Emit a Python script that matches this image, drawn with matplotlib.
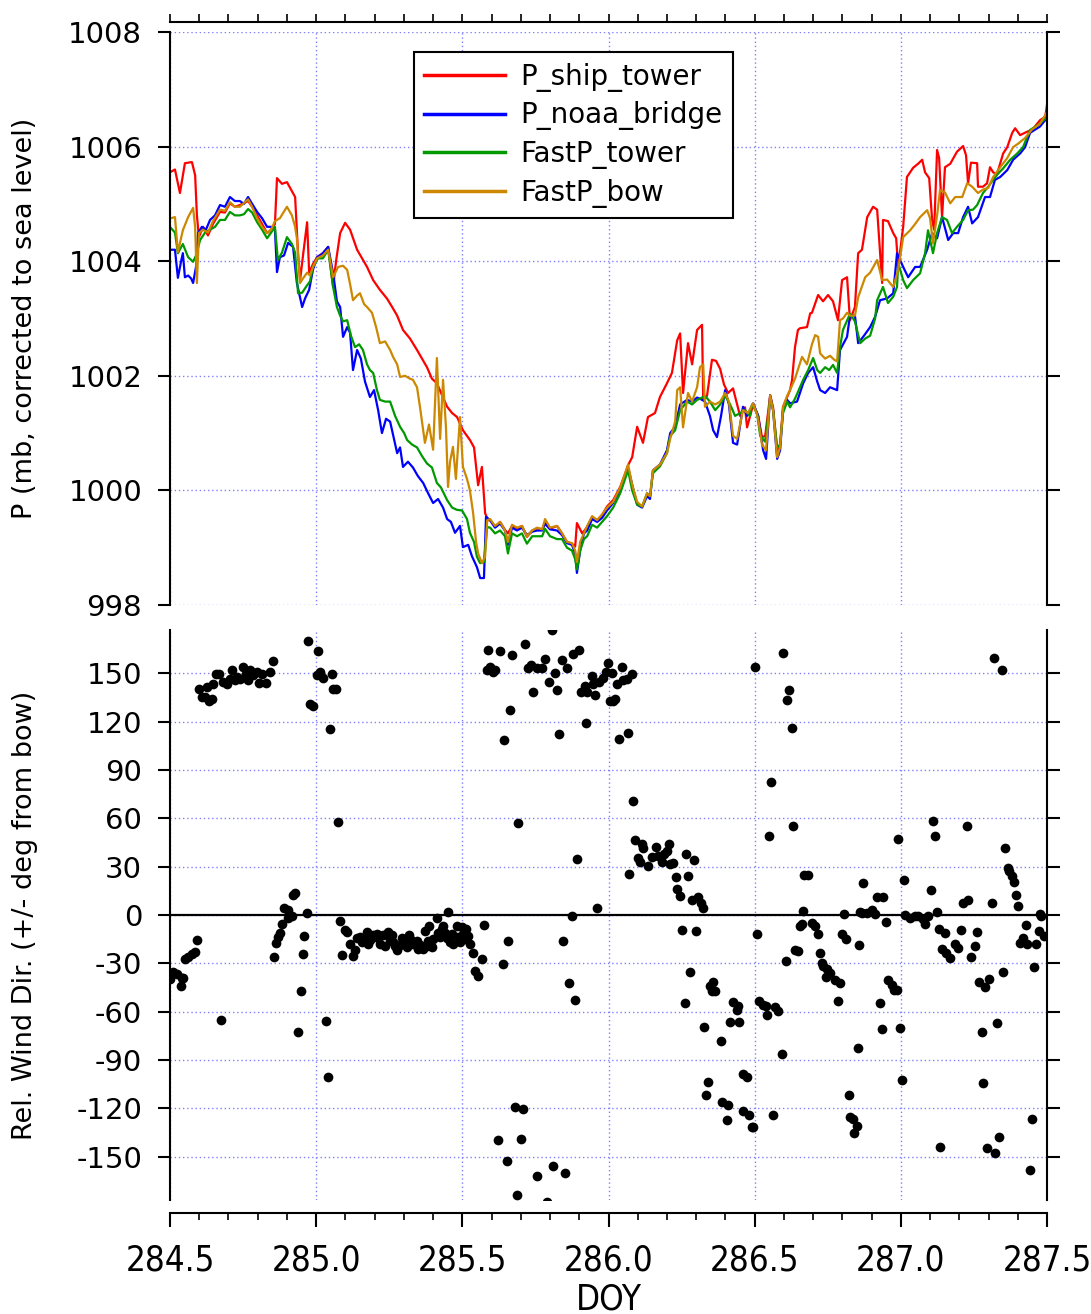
import matplotlib
matplotlib.use("Agg")
import matplotlib.pyplot as plt
from matplotlib import font_manager
from matplotlib.ticker import MultipleLocator, FixedLocator

# ---- surface pressure (mb, corrected to sea level) ----
ship_doy = [284.503, 284.517, 284.534, 284.551, 284.575, 284.586, 284.592, 284.599, 284.613, 284.630,
            284.647, 284.671, 284.688, 284.705, 284.722, 284.739, 284.767, 284.781, 284.798, 284.815,
            284.832, 284.846, 284.859, 284.866, 284.883, 284.900, 284.914, 284.928, 284.938, 284.945,
            284.955, 284.969, 284.976, 284.989, 285.003, 285.023, 285.041, 285.058, 285.068, 285.082,
            285.099, 285.116, 285.140, 285.157, 285.174, 285.195, 285.218, 285.242, 285.260, 285.277,
            285.297, 285.321, 285.345, 285.362, 285.379, 285.396, 285.413, 285.434, 285.448, 285.465,
            285.482, 285.502, 285.526, 285.540, 285.554, 285.567, 285.578, 285.588, 285.595, 285.612,
            285.629, 285.646, 285.656, 285.670, 285.687, 285.704, 285.721, 285.739, 285.756, 285.773,
            285.783, 285.800, 285.824, 285.841, 285.858, 285.875, 285.886, 285.892, 285.910, 285.927,
            285.944, 285.961, 285.978, 285.995, 286.016, 286.040, 286.057, 286.067, 286.081, 286.098,
            286.118, 286.135, 286.159, 286.176, 286.200, 286.217, 286.235, 286.245, 286.255, 286.272,
            286.286, 286.303, 286.320, 286.324, 286.337, 286.354, 286.368, 286.382, 286.395, 286.409,
            286.426, 286.440, 286.450, 286.467, 286.474, 286.495, 286.512, 286.525, 286.536, 286.553,
            286.563, 286.577, 286.587, 286.597, 286.611, 286.621, 286.628, 286.638, 286.648, 286.655,
            286.679, 286.690, 286.696, 286.717, 286.734, 286.751, 286.768, 286.785, 286.799, 286.816,
            286.826, 286.843, 286.854, 286.867, 286.885, 286.905, 286.919, 286.929, 286.936, 286.939,
            286.956, 286.974, 286.984, 286.991, 287.008, 287.021, 287.042, 287.059, 287.073, 287.083,
            287.097, 287.107, 287.114, 287.124, 287.131, 287.141, 287.151, 287.169, 287.192, 287.213,
            287.223, 287.230, 287.240, 287.261, 287.264, 287.281, 287.295, 287.305, 287.316, 287.329,
            287.350, 287.364, 287.381, 287.391, 287.408, 287.432, 287.449, 287.476, 287.494, 287.500]
ship_p = [1005.56, 1005.60, 1005.19, 1005.71, 1005.73, 1005.50, 1004.80, 1004.42, 1004.60, 1004.45,
          1004.65, 1004.86, 1004.85, 1005.01, 1004.95, 1004.98, 1005.05, 1004.95, 1004.80, 1004.65,
          1004.49, 1004.55, 1004.65, 1005.45, 1005.35, 1005.38, 1005.25, 1005.12, 1004.14, 1003.67,
          1004.10, 1004.68, 1003.80, 1003.95, 1004.07, 1004.14, 1004.25, 1003.55, 1004.00, 1004.49,
          1004.67, 1004.55, 1004.20, 1004.05, 1003.90, 1003.67, 1003.50, 1003.35, 1003.20, 1003.05,
          1002.80, 1002.65, 1002.45, 1002.30, 1002.15, 1001.95, 1001.87, 1001.62, 1001.46, 1001.35,
          1001.28, 1001.05, 1000.88, 1000.75, 1000.09, 1000.41, 999.60, 999.48, 999.48, 999.36,
          999.45, 999.31, 999.25, 999.38, 999.33, 999.38, 999.19, 999.30, 999.34, 999.32,
          999.43, 999.33, 999.38, 999.25, 999.10, 999.07, 999.02, 999.43, 999.25, 999.36,
          999.54, 999.48, 999.57, 999.72, 999.83, 1000.06, 1000.29, 1000.44, 1000.58, 1001.11,
          1000.83, 1001.28, 1001.35, 1001.63, 1001.87, 1002.05, 1002.62, 1002.74, 1001.70, 1002.57,
          1002.20, 1002.80, 1002.89, 1001.58, 1001.65, 1002.28, 1002.26, 1002.12, 1001.85, 1001.70,
          1001.78, 1001.50, 1001.30, 1001.45, 1001.10, 1001.50, 1001.30, 1000.93, 1000.95, 1001.66,
          1001.45, 1000.70, 1000.80, 1001.46, 1001.63, 1001.75, 1001.93, 1002.50, 1002.80, 1002.83,
          1002.85, 1003.09, 1003.10, 1003.41, 1003.30, 1003.41, 1003.30, 1002.97, 1003.67, 1003.72,
          1002.97, 1003.20, 1004.14, 1004.20, 1004.77, 1004.95, 1004.90, 1004.14, 1003.62, 1004.72,
          1004.70, 1004.49, 1004.40, 1003.90, 1004.60, 1005.47, 1005.63, 1005.70, 1005.77, 1005.55,
          1005.45, 1004.72, 1004.55, 1005.94, 1005.80, 1004.77, 1005.64, 1005.70, 1005.91, 1006.01,
          1005.85, 1005.36, 1005.72, 1005.71, 1005.30, 1005.30, 1005.36, 1005.64, 1005.55, 1005.52,
          1005.88, 1005.99, 1006.24, 1006.32, 1006.20, 1006.26, 1006.29, 1006.46, 1006.52, 1006.73]

noaa_doy = [284.503, 284.517, 284.527, 284.538, 284.544, 284.551, 284.562, 284.572, 284.579, 284.589,
            284.596, 284.609, 284.623, 284.637, 284.654, 284.671, 284.688, 284.705, 284.722, 284.739,
            284.753, 284.767, 284.781, 284.798, 284.815, 284.832, 284.846, 284.859, 284.866, 284.876,
            284.890, 284.904, 284.921, 284.934, 284.952, 284.962, 284.976, 284.989, 285.003, 285.013,
            285.023, 285.041, 285.058, 285.071, 285.082, 285.092, 285.106, 285.116, 285.126, 285.140,
            285.153, 285.167, 285.184, 285.198, 285.212, 285.225, 285.239, 285.253, 285.266, 285.277,
            285.287, 285.297, 285.314, 285.331, 285.348, 285.366, 285.383, 285.400, 285.417, 285.434,
            285.448, 285.461, 285.475, 285.492, 285.502, 285.520, 285.533, 285.550, 285.561, 285.574,
            285.581, 285.595, 285.612, 285.629, 285.646, 285.656, 285.670, 285.687, 285.704, 285.721,
            285.739, 285.756, 285.773, 285.783, 285.800, 285.824, 285.841, 285.858, 285.875, 285.886,
            285.892, 285.903, 285.916, 285.927, 285.944, 285.961, 285.978, 285.995, 286.016, 286.040,
            286.057, 286.067, 286.081, 286.098, 286.115, 286.132, 286.142, 286.152, 286.176, 286.200,
            286.211, 286.228, 286.245, 286.269, 286.286, 286.303, 286.313, 286.330, 286.347, 286.358,
            286.371, 286.385, 286.399, 286.412, 286.426, 286.440, 286.460, 286.474, 286.495, 286.512,
            286.529, 286.539, 286.553, 286.563, 286.577, 286.587, 286.597, 286.611, 286.621, 286.645,
            286.666, 286.683, 286.700, 286.714, 286.724, 286.741, 286.758, 286.782, 286.792, 286.816,
            286.826, 286.843, 286.854, 286.874, 286.895, 286.912, 286.929, 286.953, 286.974, 286.987,
            287.008, 287.025, 287.049, 287.066, 287.090, 287.107, 287.124, 287.141, 287.162, 287.179,
            287.196, 287.213, 287.230, 287.244, 287.264, 287.288, 287.305, 287.322, 287.340, 287.364,
            287.384, 287.408, 287.425, 287.442, 287.476, 287.500]
noaa_p = [1004.20, 1004.20, 1003.71, 1004.00, 1004.14, 1003.72, 1003.75, 1003.70, 1003.62, 1003.90,
          1004.49, 1004.60, 1004.55, 1004.72, 1004.80, 1004.98, 1004.95, 1005.12, 1005.05, 1005.05,
          1005.00, 1005.12, 1005.00, 1004.86, 1004.75, 1004.60, 1004.60, 1004.55, 1003.81, 1004.07,
          1004.10, 1004.32, 1004.25, 1003.62, 1003.20, 1003.35, 1003.50, 1003.85, 1004.07, 1004.10,
          1004.14, 1004.25, 1003.79, 1003.30, 1003.20, 1002.68, 1002.85, 1002.75, 1002.10, 1002.45,
          1002.30, 1001.90, 1001.63, 1001.75, 1001.40, 1001.00, 1001.25, 1001.20, 1000.90, 1000.65,
          1000.75, 1000.41, 1000.50, 1000.40, 1000.25, 1000.13, 999.95, 999.78, 999.85, 999.70,
          999.50, 999.45, 999.26, 999.38, 999.01, 999.05, 998.85, 998.66, 998.47, 998.47,
          999.54, 999.48, 999.35, 999.42, 999.30, 999.05, 999.35, 999.30, 999.35, 999.22,
          999.28, 999.30, 999.30, 999.42, 999.32, 999.30, 999.22, 999.08, 999.05, 998.90,
          998.56, 998.95, 999.25, 999.30, 999.50, 999.45, 999.52, 999.65, 999.78, 1000.00,
          1000.25, 1000.40, 1000.10, 999.75, 999.70, 999.90, 999.85, 1000.35, 1000.45, 1000.70,
          1001.00, 1001.11, 1001.50, 1001.58, 1001.55, 1001.62, 1001.60, 1001.55, 1001.30, 1001.05,
          1000.93, 1001.30, 1001.75, 1001.50, 1000.83, 1000.80, 1001.46, 1001.30, 1001.52, 1001.30,
          1000.70, 1000.55, 1001.66, 1001.40, 1000.55, 1000.70, 1001.40, 1001.58, 1001.52, 1001.55,
          1001.87, 1002.05, 1002.15, 1001.90, 1001.75, 1001.70, 1001.80, 1001.75, 1002.45, 1002.68,
          1003.05, 1003.05, 1002.57, 1002.70, 1002.85, 1003.03, 1003.32, 1003.35, 1003.44, 1004.14,
          1003.90, 1003.72, 1003.90, 1003.90, 1004.20, 1004.49, 1004.40, 1004.77, 1004.37, 1004.49,
          1004.49, 1004.77, 1004.95, 1004.66, 1004.77, 1005.12, 1005.12, 1005.42, 1005.47, 1005.59,
          1005.77, 1005.88, 1005.99, 1006.24, 1006.35, 1006.50]

fast_tower_doy = [284.503, 284.517, 284.527, 284.544, 284.562, 284.579, 284.589, 284.603, 284.620, 284.637,
                  284.654, 284.671, 284.688, 284.705, 284.722, 284.739, 284.753, 284.767, 284.781, 284.798,
                  284.815, 284.832, 284.846, 284.859, 284.869, 284.883, 284.900, 284.917, 284.928, 284.938,
                  284.952, 284.965, 284.979, 284.989, 285.006, 285.023, 285.041, 285.058, 285.071, 285.082,
                  285.092, 285.106, 285.119, 285.133, 285.147, 285.160, 285.174, 285.184, 285.195, 285.208,
                  285.218, 285.236, 285.253, 285.270, 285.287, 285.301, 285.311, 285.328, 285.345, 285.362,
                  285.379, 285.396, 285.413, 285.427, 285.448, 285.465, 285.482, 285.499, 285.516, 285.526,
                  285.540, 285.550, 285.561, 285.574, 285.585, 285.595, 285.612, 285.629, 285.646, 285.656,
                  285.670, 285.687, 285.704, 285.721, 285.739, 285.756, 285.773, 285.783, 285.800, 285.824,
                  285.841, 285.858, 285.875, 285.886, 285.892, 285.903, 285.916, 285.927, 285.944, 285.961,
                  285.978, 285.995, 286.016, 286.040, 286.057, 286.067, 286.081, 286.098, 286.115, 286.132,
                  286.142, 286.152, 286.176, 286.200, 286.211, 286.228, 286.245, 286.269, 286.286, 286.303,
                  286.313, 286.330, 286.347, 286.365, 286.382, 286.399, 286.416, 286.433, 286.450, 286.467,
                  286.484, 286.491, 286.508, 286.519, 286.536, 286.553, 286.563, 286.577, 286.587, 286.597,
                  286.611, 286.621, 286.638, 286.655, 286.666, 286.683, 286.700, 286.714, 286.724, 286.741,
                  286.755, 286.768, 286.782, 286.792, 286.802, 286.826, 286.843, 286.861, 286.878, 286.895,
                  286.912, 286.919, 286.939, 286.956, 286.974, 286.987, 286.991, 287.008, 287.021, 287.042,
                  287.066, 287.083, 287.093, 287.110, 287.124, 287.141, 287.158, 287.175, 287.192, 287.213,
                  287.230, 287.247, 287.261, 287.281, 287.299, 287.316, 287.333, 287.350, 287.374, 287.398,
                  287.418, 287.442, 287.470, 287.497]
fast_tower_p = [1004.58, 1004.50, 1004.14, 1004.30, 1004.07, 1003.99, 1004.10, 1004.37, 1004.50, 1004.55,
                1004.60, 1004.72, 1004.72, 1004.86, 1004.80, 1004.80, 1004.82, 1004.91, 1004.85, 1004.68,
                1004.55, 1004.40, 1004.50, 1004.60, 1004.02, 1004.15, 1004.42, 1004.30, 1004.15, 1003.44,
                1003.45, 1003.55, 1003.65, 1003.90, 1004.05, 1004.05, 1004.20, 1003.55, 1003.20, 1003.05,
                1002.95, 1002.97, 1002.70, 1002.50, 1002.55, 1002.45, 1002.20, 1002.10, 1002.05, 1001.75,
                1001.58, 1001.55, 1001.55, 1001.30, 1001.11, 1001.00, 1000.88, 1000.80, 1000.75, 1000.60,
                1000.47, 1000.40, 1000.13, 1000.05, 999.83, 999.70, 999.66, 999.65, 999.50, 999.26,
                999.10, 998.84, 998.73, 998.75, 999.36, 999.35, 999.25, 999.30, 999.20, 998.90,
                999.25, 999.20, 999.25, 999.07, 999.20, 999.20, 999.20, 999.33, 999.20, 999.15,
                999.15, 999.00, 998.95, 998.80, 998.62, 998.95, 999.15, 999.20, 999.40, 999.35,
                999.45, 999.55, 999.70, 999.95, 1000.20, 1000.35, 1000.00, 999.75, 999.72, 999.95,
                999.90, 1000.30, 1000.42, 1000.65, 1000.95, 1001.05, 1001.40, 1001.55, 1001.50, 1001.58,
                1001.60, 1001.65, 1001.55, 1001.40, 1001.50, 1001.65, 1001.50, 1001.30, 1001.35, 1001.40,
                1001.30, 1001.50, 1001.35, 1000.95, 1000.85, 1001.60, 1001.40, 1000.75, 1000.80, 1001.35,
                1001.55, 1001.45, 1001.60, 1001.80, 1001.93, 1002.10, 1002.31, 1002.10, 1002.05, 1002.15,
                1002.10, 1002.19, 1002.05, 1002.50, 1002.80, 1003.08, 1002.95, 1002.57, 1002.65, 1002.70,
                1003.00, 1003.32, 1003.55, 1003.27, 1003.38, 1003.55, 1003.97, 1003.67, 1003.53, 1003.67,
                1003.79, 1004.14, 1004.54, 1004.14, 1004.49, 1004.77, 1004.72, 1004.49, 1004.60, 1004.72,
                1004.89, 1004.90, 1004.98, 1005.19, 1005.30, 1005.42, 1005.53, 1005.62, 1005.77, 1005.88,
                1005.99, 1006.29, 1006.38, 1006.50]

fast_bow_doy = [284.503, 284.517, 284.527, 284.544, 284.562, 284.579, 284.586, 284.592, 284.599, 284.613,
                284.630, 284.647, 284.671, 284.688, 284.705, 284.722, 284.739, 284.767, 284.781, 284.798,
                284.815, 284.832, 284.846, 284.859, 284.876, 284.900, 284.917, 284.928, 284.934, 284.945,
                284.955, 284.969, 284.979, 284.989, 285.003, 285.023, 285.041, 285.058, 285.075, 285.092,
                285.106, 285.116, 285.126, 285.140, 285.150, 285.164, 285.174, 285.191, 285.205, 285.218,
                285.236, 285.253, 285.263, 285.277, 285.287, 285.304, 285.321, 285.331, 285.345, 285.355,
                285.372, 285.386, 285.400, 285.413, 285.424, 285.434, 285.444, 285.451, 285.458, 285.468,
                285.478, 285.492, 285.502, 285.516, 285.526, 285.537, 285.547, 285.554, 285.567, 285.578,
                285.585, 285.595, 285.612, 285.629, 285.646, 285.656, 285.670, 285.687, 285.704, 285.721,
                285.739, 285.756, 285.773, 285.783, 285.800, 285.824, 285.841, 285.858, 285.875, 285.886,
                285.892, 285.903, 285.916, 285.927, 285.944, 285.961, 285.978, 285.995, 286.016, 286.040,
                286.057, 286.067, 286.081, 286.098, 286.115, 286.132, 286.142, 286.152, 286.176, 286.200,
                286.211, 286.228, 286.235, 286.245, 286.255, 286.272, 286.286, 286.303, 286.313, 286.324,
                286.330, 286.347, 286.365, 286.382, 286.399, 286.412, 286.426, 286.440, 286.460, 286.477,
                286.495, 286.512, 286.525, 286.539, 286.553, 286.563, 286.577, 286.587, 286.597, 286.611,
                286.621, 286.638, 286.662, 286.679, 286.696, 286.707, 286.717, 286.724, 286.741, 286.758,
                286.772, 286.782, 286.792, 286.802, 286.816, 286.826, 286.843, 286.854, 286.878, 286.895,
                286.919, 286.936, 286.953, 286.974, 286.991, 287.008, 287.032, 287.049, 287.066, 287.090,
                287.100, 287.110, 287.124, 287.134, 287.151, 287.169, 287.186, 287.210, 287.227, 287.244,
                287.264, 287.281, 287.299, 287.316, 287.340, 287.364, 287.384, 287.401, 287.425, 287.449,
                287.476, 287.500]
fast_bow_p = [1004.75, 1004.77, 1004.16, 1004.54, 1004.77, 1004.93, 1004.60, 1003.62, 1004.49, 1004.55,
              1004.50, 1004.70, 1004.90, 1004.88, 1005.03, 1004.95, 1004.95, 1005.08, 1004.95, 1004.75,
              1004.60, 1004.49, 1004.55, 1004.70, 1004.75, 1004.95, 1004.80, 1004.60, 1004.40, 1003.62,
              1003.70, 1003.80, 1003.75, 1003.90, 1004.05, 1004.10, 1004.20, 1003.72, 1003.90, 1003.92,
              1003.85, 1003.60, 1003.32, 1003.40, 1003.44, 1003.25, 1003.20, 1003.10, 1002.85, 1002.57,
              1002.60, 1002.45, 1002.33, 1002.20, 1001.98, 1002.00, 1001.95, 1001.93, 1001.80, 1001.46,
              1000.83, 1001.15, 1000.71, 1002.31, 1000.90, 1001.93, 1001.10, 1000.06, 1000.50, 1000.76,
              1000.20, 1001.28, 1000.41, 1000.20, 1000.00, 999.60, 999.10, 998.90, 998.73, 998.85,
              999.48, 999.50, 999.38, 999.45, 999.30, 999.10, 999.40, 999.35, 999.38, 999.20,
              999.30, 999.35, 999.32, 999.50, 999.35, 999.38, 999.25, 999.10, 999.08, 998.95,
              998.75, 999.10, 999.25, 999.38, 999.55, 999.48, 999.58, 999.70, 999.80, 1000.05,
              1000.30, 1000.45, 1000.10, 999.80, 999.72, 999.95, 999.90, 1000.35, 1000.45, 1000.65,
              1000.90, 1001.20, 1001.75, 1001.80, 1001.10, 1001.70, 1001.55, 1001.80, 1002.15, 1002.20,
              1001.46, 1001.55, 1001.50, 1001.55, 1001.70, 1001.55, 1000.95, 1000.90, 1001.40, 1001.35,
              1001.52, 1001.25, 1000.80, 1000.70, 1001.66, 1001.40, 1000.58, 1000.75, 1001.45, 1001.65,
              1001.75, 1001.95, 1002.33, 1002.20, 1002.55, 1002.71, 1002.68, 1002.39, 1002.30, 1002.35,
              1002.28, 1002.25, 1002.97, 1003.00, 1003.10, 1003.05, 1003.05, 1003.37, 1003.72, 1003.80,
              1004.02, 1003.67, 1003.68, 1003.55, 1003.85, 1004.42, 1004.54, 1004.65, 1004.77, 1004.89,
              1004.75, 1004.31, 1004.80, 1005.24, 1005.20, 1005.01, 1005.12, 1005.12, 1005.36, 1005.30,
              1005.19, 1005.25, 1005.28, 1005.47, 1005.64, 1005.80, 1005.99, 1006.05, 1006.15, 1006.30,
              1006.40, 1006.60]

# ---- relative wind direction (deg from bow) ----
wind_doy = [284.500, 284.511, 284.523, 284.538, 284.540, 284.546, 284.551, 284.563, 284.574, 284.586,
            284.593, 284.600, 284.608, 284.620, 284.626, 284.634, 284.643, 284.648, 284.657, 284.669,
            284.674, 284.682, 284.694, 284.705, 284.711, 284.722, 284.730, 284.739, 284.751, 284.760,
            284.768, 284.774, 284.785, 284.797, 284.806, 284.814, 284.828, 284.842, 284.851, 284.857,
            284.863, 284.871, 284.876, 284.884, 284.890, 284.905, 284.905, 284.916, 284.922, 284.928,
            284.939, 284.947, 284.954, 284.959, 284.968, 284.973, 284.979, 284.990, 285.002, 285.007,
            285.013, 285.024, 285.034, 285.042, 285.047, 285.053, 285.059, 285.068, 285.076, 285.082,
            285.087, 285.099, 285.105, 285.116, 285.127, 285.133, 285.139, 285.150, 285.156, 285.162,
            285.173, 285.178, 285.185, 285.196, 285.207, 285.212, 285.218, 285.230, 285.236, 285.247,
            285.252, 285.258, 285.264, 285.270, 285.276, 285.287, 285.293, 285.304, 285.310, 285.319,
            285.325, 285.332, 285.344, 285.349, 285.356, 285.367, 285.372, 285.378, 285.384, 285.387,
            285.395, 285.401, 285.412, 285.418, 285.424, 285.429, 285.435, 285.441, 285.446, 285.452,
            285.458, 285.463, 285.469, 285.481, 285.486, 285.492, 285.498, 285.503, 285.509, 285.513,
            285.521, 285.526, 285.538, 285.543, 285.555, 285.566, 285.574, 285.583, 285.589, 285.595,
            285.606, 285.612, 285.623, 285.629, 285.638, 285.644, 285.652, 285.657, 285.663, 285.671,
            285.680, 285.686, 285.692, 285.700, 285.707, 285.714, 285.726, 285.734, 285.743, 285.754,
            285.755, 285.772, 285.783, 285.789, 285.798, 285.806, 285.811, 285.817, 285.825, 285.832,
            285.840, 285.846, 285.851, 285.859, 285.866, 285.874, 285.880, 285.886, 285.893, 285.900,
            285.905, 285.920, 285.923, 285.928, 285.943, 285.948, 285.954, 285.960, 285.969, 285.982,
            285.992, 285.999, 286.005, 286.011, 286.017, 286.022, 286.030, 286.037, 286.045, 286.051,
            286.062, 286.065, 286.071, 286.080, 286.085, 286.092, 286.100, 286.108, 286.114, 286.119,
            286.136, 286.148, 286.162, 286.170, 286.182, 286.190, 286.201, 286.208, 286.211, 286.222,
            286.231, 286.235, 286.245, 286.251, 286.260, 286.265, 286.273, 286.279, 286.285, 286.293,
            286.300, 286.307, 286.315, 286.322, 286.328, 286.334, 286.342, 286.347, 286.353, 286.359,
            286.365, 286.384, 286.387, 286.404, 286.410, 286.416, 286.427, 286.439, 286.444, 286.448,
            286.459, 286.461, 286.473, 286.482, 286.490, 286.496, 286.501, 286.509, 286.516, 286.530,
            286.539, 286.543, 286.550, 286.556, 286.564, 286.570, 286.581, 286.593, 286.598, 286.607,
            286.612, 286.619, 286.627, 286.632, 286.638, 286.649, 286.655, 286.661, 286.667, 286.669,
            286.684, 286.695, 286.707, 286.718, 286.724, 286.729, 286.735, 286.744, 286.746, 286.758,
            286.775, 286.786, 286.792, 286.798, 286.807, 286.813, 286.821, 286.826, 286.838, 286.841,
            286.849, 286.853, 286.858, 286.861, 286.866, 286.872, 286.884, 286.901, 286.912, 286.920,
            286.929, 286.935, 286.940, 286.950, 286.957, 286.969, 286.977, 286.986, 286.992, 286.997,
            287.003, 287.011, 287.015, 287.032, 287.049, 287.060, 287.077, 287.083, 287.094, 287.102,
            287.109, 287.117, 287.123, 287.129, 287.134, 287.140, 287.151, 287.155, 287.169, 287.186,
            287.197, 287.206, 287.214, 287.228, 287.231, 287.240, 287.254, 287.260, 287.269, 287.277,
            287.282, 287.288, 287.296, 287.303, 287.311, 287.317, 287.322, 287.330, 287.337, 287.345,
            287.351, 287.357, 287.365, 287.371, 287.380, 287.387, 287.394, 287.400, 287.406, 287.419,
            287.428, 287.433, 287.442, 287.448, 287.456, 287.462, 287.471, 287.476, 287.479, 287.490]
wind_dir = [-39.6, -35.5, -36.5, -44.4, -39.0, -39.0, -27.2, -26.2, -24.2, -23.1,
            -15.4, 140.5, 135.3, 135.3, 141.5, 132.6, 134.3, 143.2, 149.4, 149.4,
            -65.0, 144.6, 143.6, 146.7, 151.9, 145.7, 147.7, 146.7, 153.9, 149.8,
            146.1, 151.9, 148.8, 150.8, 144.0, 149.8, 144.0, 150.8, 157.5, -25.8,
            -17.5, -13.4, -11.3, -5.8, 4.5, 3.1, -1.6, -0.5, 12.5, 13.6,
            -72.4, -46.9, -24.5, -13.0, 1.1, 170.0, 131.2, 130.1, 148.8, 163.7,
            150.8, 147.3, -66.0, -100.7, 115.7, 149.8, 140.5, 140.5, 57.6, -3.5,
            -24.7, -9.6, -10.6, -17.8, -25.7, -22.0, -14.1, -13.7, -16.8, -14.5,
            -10.6, -17.8, -15.5, -12.7, -11.6, -14.5, -17.8, -12.7, -19.5, -10.6,
            -15.5, -12.7, -16.8, -19.5, -22.0, -18.9, -14.5, -17.8, -20.0, -12.2,
            -15.5, -17.8, -16.1, -21.3, -18.5, -21.3, -9.9, -19.2, -16.0, -6.8,
            -20.0, -15.1, -1.6, -10.9, -13.5, -8.9, -6.6, -10.9, -14.5, 1.6,
            -16.8, -11.5, -17.8, -6.6, -13.9, -17.0, -7.6, -11.8, -15.0, -8.7,
            -12.9, -18.1, -23.3, -34.7, -37.7, -27.3, -6.2, 152.3, 164.3, 153.9,
            150.8, 151.9, -139.6, 163.7, -30.3, 108.4, -152.9, -16.4, 127.6, 161.6,
            -119.0, -173.8, 57.0, -139.0, -120.4, 168.4, 153.3, 155.0, 138.4, 153.3,
            -161.8, 153.3, 158.7, -178.4, 144.6, 176.7, -156.0, 150.4, 140.0, 112.5,
            158.5, -16.2, -160.1, 153.3, -42.1, -0.8, 162.2, -52.7, 34.9, 164.3,
            138.8, 142.5, 119.1, 138.4, 148.3, 143.6, 136.8, 4.3, 144.6, 147.5,
            150.8, 156.4, 133.2, 150.2, 133.2, 134.3, 143.6, 109.4, 154.3, 145.7,
            146.7, 113.2, 25.5, 149.8, 70.7, 46.3, 35.5, 32.8, 44.2, 41.5,
            30.7, 35.9, 42.5, 36.9, 32.8, 38.0, 40.0, 43.8, 31.7, 32.1,
            23.5, 16.3, 11.5, -9.3, -54.5, 38.0, 24.1, -35.2, 9.5, 34.3,
            -10.0, 11.1, 7.5, 4.3, -69.7, -111.5, -103.9, -43.8, -46.9, -41.7,
            -46.9, -78.0, -116.1, -127.6, -118.0, -66.4, -54.0, -59.2, -56.7, -66.4,
            -121.9, -98.6, -100.3, -124.5, -131.7, -131.4, 153.9, -11.5, -53.5, -56.2,
            -56.8, -62.4, 48.8, 82.7, -124.5, -57.3, -59.4, -86.2, 162.8, -28.3,
            133.7, 140.0, 116.3, 55.0, -22.0, -22.5, -6.7, -5.3, 2.4, 25.0,
            25.0, -4.7, -6.7, -11.9, -23.7, -29.6, -31.7, -38.6, -33.8, -35.9,
            -40.1, -53.1, -42.2, -11.9, 0.8, -15.0, -111.5, -125.2, -126.6, -135.3,
            -131.0, -82.8, -18.7, 1.7, 1.4, 19.8, 1.4, 3.0, 0.8, 11.1,
            -54.8, -71.0, 11.1, -4.3, -40.2, -43.3, -46.4, -46.4, 46.9, -69.9,
            -102.6, 21.9, 0.0, -1.6, -0.6, -0.6, -2.7, -5.8, -0.6, 15.6,
            58.3, 48.8, 1.9, -8.9, -144.2, -21.4, -11.0, -23.5, -26.6, -18.2,
            -20.3, -9.1, 7.5, 55.0, 9.3, -25.8, -19.2, -10.4, -41.5, -72.7,
            -104.5, -44.6, -144.8, -39.9, 7.2, 159.7, -147.9, -67.0, -138.0, 152.3,
            -35.1, 41.7, 29.3, 27.2, 24.5, 20.4, 12.6, 5.3, -17.2, -14.1,
            -6.4, -18.2, -158.1, -126.6, -32.5, -18.0, -9.9, 0.4, -0.6, -13.0]

series_names = ["P_ship_tower", "P_noaa_bridge", "FastP_tower", "FastP_bow"]
series_colors = ["#ff0000", "#0000ff", "#009900", "#cc8800"]

doy_ticks = [284.5, 285.0, 285.5, 286.0, 286.5, 287.0, 287.5]
p_ticks = [998, 1000, 1002, 1004, 1006, 1008]
dir_ticks = [-150, -120, -90, -60, -30, 0, 30, 60, 90, 120, 150]

plt.rcParams["font.family"] = ["DejaVu Sans"]
plt.rcParams["axes.unicode_minus"] = False


def narrow_font():
    """Pick a condensed face for the DOY axis, falling back to plain DejaVu."""
    fonts = font_manager.fontManager.ttflist
    for f in fonts:
        if f.name == "Liberation Sans Narrow" and f.style == "normal" and f.weight in (400, "normal", "regular"):
            return font_manager.FontProperties(fname=f.fname)
    for f in fonts:
        fn = f.fname
        if "DejaVuSansCondensed" in fn and "Bold" not in fn and "Oblique" not in fn:
            return font_manager.FontProperties(fname=fn)
    return font_manager.FontProperties(family="DejaVu Sans", stretch="condensed")


NARROW_FP = narrow_font()
GRID_COLOR = "#8080ff"
W, H = 1091, 1314

fig = plt.figure(figsize=(W / 100, H / 100), dpi=100)
ax1 = fig.add_axes([170 / W, 1 - 605 / H, 877 / W, 573 / H])
ax2 = fig.add_axes([170 / W, 1 - 1200 / H, 877 / W, 570 / H])

# pressure traces
for d, p, name, c in zip([ship_doy, noaa_doy, fast_tower_doy, fast_bow_doy],
                         [ship_p, noaa_p, fast_tower_p, fast_bow_p],
                         series_names, series_colors):
    ax1.plot(d, p, color=c, lw=1.6, label=name)

ax1.set_xlim(284.5, 287.5)
ax1.set_ylim(998, 1008)
ax1.spines["bottom"].set_visible(False)
ax1.spines["top"].set_position(("outward", 7))
for s in ["top", "left", "right"]:
    ax1.spines[s].set_linewidth(1.5)
ax1.xaxis.set_ticks_position("top")
ax1.xaxis.set_major_locator(FixedLocator(doy_ticks))
ax1.xaxis.set_minor_locator(MultipleLocator(0.1))
ax1.tick_params(axis="x", which="both", direction="out", length=6, width=1.2,
                labeltop=False, labelbottom=False)
ax1.set_yticks(p_ticks)
ax1.yaxis.set_ticks_position("both")
ax1.tick_params(axis="y", direction="out", length=9, width=1.5, labelsize=21, pad=11,
                labelright=False)
ax1.grid(True, which="major", color=GRID_COLOR, linestyle=(0, (1, 2)), linewidth=1.0)
ax1.set_axisbelow(True)
ax1.set_ylabel("P (mb, corrected to sea level)", fontsize=19.5)
ax1.yaxis.set_label_coords(-0.150, 0.5)

leg = ax1.legend(loc="upper left", bbox_to_anchor=(0.278, 0.965), fontsize=20,
                 frameon=True, fancybox=False, framealpha=1, edgecolor="black",
                 handlelength=2.9, handletextpad=0.54, labelspacing=0.35,
                 borderpad=0.38, borderaxespad=0)
leg.get_frame().set_linewidth(1.5)
for line in leg.get_lines():
    line.set_linewidth(2.5)

# relative wind direction
ax2.plot(wind_doy, wind_dir, "o", color="black", ms=7, mew=0)
ax2.axhline(0, color="black", lw=1.6, zorder=2)
ax2.set_xlim(284.5, 287.5)
ax2.set_ylim(-177, 177)
ax2.spines["top"].set_visible(False)
ax2.spines["bottom"].set_position(("outward", 9))
for s in ["bottom", "left", "right"]:
    ax2.spines[s].set_linewidth(1.5)
ax2.set_xticks(doy_ticks)
ax2.set_xticklabels([f"{v:.1f}" for v in doy_ticks], fontproperties=NARROW_FP, fontsize=25)
ax2.xaxis.set_minor_locator(MultipleLocator(0.1))
ax2.tick_params(axis="x", which="major", direction="out", length=10, width=1.5, pad=12)
ax2.tick_params(axis="x", which="minor", direction="out", length=5, width=1.2)
ax2.set_yticks(dir_ticks)
ax2.yaxis.set_ticks_position("both")
ax2.tick_params(axis="y", direction="out", length=9, width=1.5, labelsize=21, pad=11,
                labelright=False)
ax2.grid(True, which="major", color=GRID_COLOR, linestyle=(0, (1, 2)), linewidth=1.0)
ax2.set_axisbelow(True)
ax2.set_ylabel("Rel. Wind Dir. (+/- deg from bow)", fontsize=19.5)
ax2.yaxis.set_label_coords(-0.150, 0.5)

doy_fp = NARROW_FP.copy()
doy_fp.set_size(25)
fig.text(609 / W, 1 - 1299 / H, "DOY", ha="center", va="center", fontproperties=doy_fp)

fig.savefig("out.png", dpi=100)
